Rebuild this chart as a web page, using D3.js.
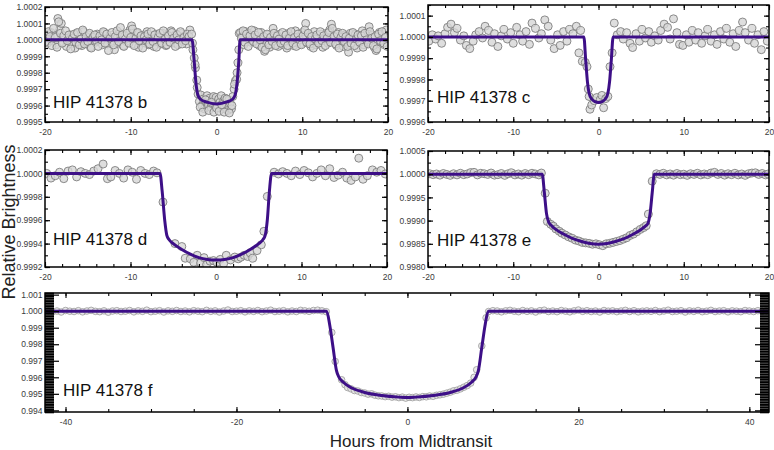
<!DOCTYPE html>
<html>
<head>
<meta charset="utf-8">
<script src="https://cdn.jsdelivr.net/npm/d3@7"></script>
<style>
  body { margin: 0; background: #fff; }
  svg { display: block; }
</style>
</head>
<body>
<div id="chart"></div>
<script>
/* =========================
   Data (hours from midtransit, flux offset in ppm)
========================= */
const bPoints = [
  [-19.9,35],[-19.7,-20],[-19.5,10],[-19.3,45],[-19.1,-5],[-18.9,25],[-18.7,-30],[-18.5,130],[-18.3,60],[-18.1,100],
  [-17.9,-15],[-17.7,20],[-17.5,-40],[-17.3,5],[-17.1,30],[-16.9,-25],[-16.7,15],[-16.5,-50],[-16.3,40],[-16.1,-10],
  [-15.9,20],[-15.7,-35],[-15.5,50],[-15.3,0],[-15.1,-20],[-14.9,30],[-14.7,-45],[-14.5,10],[-14.3,25],[-14.1,-15],
  [-13.9,35],[-13.7,-5],[-13.5,20],[-13.3,-30],[-13.1,45],[-12.9,5],[-12.7,-25],[-12.5,15],[-12.3,-10],[-12.1,30],
  [-11.9,-60],[-11.7,20],[-11.5,-20],[-11.3,40],[-11.1,0],[-10.9,-35],[-10.7,25],[-10.5,-10],[-10.3,35],[-10.1,60],
  [-9.9,85],[-9.7,-25],[-9.5,10],[-9.3,40],[-9.1,-45],[-8.9,15],[-8.7,-5],[-8.5,30],[-8.3,-20],[-8.1,50],
  [-7.9,-30],[-7.7,5],[-7.5,25],[-7.3,-40],[-7.1,35],[-6.9,-10],[-6.7,20],[-6.5,-25],[-6.3,40],[-6.1,0],
  [-5.9,-35],[-5.7,30],[-5.5,-15],[-5.3,55],[-5.1,10],[-4.9,-20],[-4.7,35],[-4.5,-30],[-4.3,15],[-4.1,40],
  [-3.9,-10],[-3.7,25],[-3.5,-25],[-3.3,10],[-3.1,60],
  [-19.8,-10],[-19.6,50],[-19.4,20],[-19.2,-35],[-19.0,70],[-18.8,15],[-18.6,-45],[-18.4,110],[-18.2,40],[-18.0,-20],
  [-17.8,25],[-17.6,55],[-17.4,-5],[-17.2,30],[-17.0,-55],[-16.8,10],[-16.6,35],[-16.4,-15],[-16.2,45],[-16.0,-30],
  [-15.8,5],[-15.6,60],[-15.4,-25],[-15.2,20],[-15.0,-10],[-14.8,40],[-14.6,-50],[-14.4,15],[-14.2,30],[-14.0,-5],
  [-13.8,-40],[-13.6,25],[-13.4,0],[-13.2,50],[-13.0,-20],[-12.8,35],[-12.6,-65],[-12.4,10],[-12.2,45],[-12.0,-30],
  [-11.8,20],[-11.6,55],[-11.4,-10],[-11.2,75],[-11.0,30],[-10.8,-40],[-10.6,5],[-10.4,40],[-10.2,-20],[-10.0,15],
  [-9.8,65],[-9.6,-35],[-9.4,10],[-9.2,45],[-9.0,-5],[-8.8,25],[-8.6,-50],[-8.4,20],[-8.2,0],[-8.0,35],
  [-7.8,-25],[-7.6,50],[-7.4,-10],[-7.2,30],[-7.0,-45],[-6.8,15],[-6.6,40],[-6.4,-20],[-6.2,55],[-6.0,5],
  [-5.8,-30],[-5.6,25],[-5.4,-15],[-5.2,45],[-5.0,10],[-4.8,-40],[-4.6,30],[-4.4,0],[-4.2,50],[-4.0,-25],
  [-3.8,15],[-3.6,-5],[-3.4,35],[-3.2,20],
  [-2.9,35],[-2.75,-60],[-2.6,-110],[-2.45,-170],[-2.3,-245],[-2.15,-330],[-2.0,-375],[-1.85,-335],[-1.7,-400],[-1.55,-360],
  [-1.4,-420],[-1.25,-375],[-1.1,-340],[-0.95,-395],[-0.8,-355],[-0.65,-410],[-0.5,-365],[-0.35,-345],[-0.2,-390],[-0.05,-350],
  [0.1,-400],[0.25,-360],[0.4,-380],[0.55,-340],[0.7,-420],[0.85,-370],[1.0,-355],[1.15,-395],[1.3,-430],[1.45,-365],
  [1.6,-385],[1.75,-420],[1.9,-345],[2.05,-300],[2.2,-250],[2.35,-240],[2.5,-140],[2.65,40],
  [-2.8,-20],[-2.5,-150],[-2.25,-290],[-1.9,-410],[-1.6,-440],[-1.3,-365],[-0.9,-430],[-0.6,-380],[-0.3,-440],[0,-415],
  [0.3,-435],[0.6,-395],[0.9,-440],[1.2,-360],[1.5,-445],[1.8,-400],[2.1,-270],[2.4,-200],[2.6,-60],
  [2.8,45],[3.0,20],[3.2,-30],[3.4,50],[3.6,10],[3.8,40],[4.0,-15],[4.2,30],[4.4,55],[4.6,-5],
  [4.8,25],[5.0,-35],[5.2,45],[5.4,5],[5.6,-70],[5.8,-20],[6.0,30],[6.2,-45],[6.4,10],[6.6,70],
  [6.8,-25],[7.0,15],[7.2,-40],[7.4,35],[7.6,0],[7.8,-30],[8.0,20],[8.2,-50],[8.4,40],[8.6,-10],
  [8.8,25],[9.0,-35],[9.2,55],[9.4,-15],[9.6,20],[9.8,-25],[10.0,45],[10.2,5],[10.4,100],[10.6,-20],
  [10.8,30],[11.0,-40],[11.2,10],[11.4,50],[11.6,-30],[11.8,20],[12.0,-10],[12.2,35],[12.4,-45],[12.6,15],
  [12.8,40],[13.0,-20],[13.2,60],[13.4,95],[13.6,-5],[13.8,25],[14.0,-35],[14.2,45],[14.4,-15],[14.6,10],
  [14.8,-40],[15.0,30],[15.2,-20],[15.4,-75],[15.6,40],[15.8,5],[16.0,-25],[16.2,35],[16.4,-50],[16.6,20],
  [16.8,-10],[17.0,55],[17.2,-30],[17.4,15],[17.6,40],[17.8,80],[18.0,-20],[18.2,30],[18.4,-45],[18.6,-65],
  [18.8,25],[19.0,45],[19.2,-15],[19.4,35],[19.6,-30],[19.8,60],
  [2.9,10],[3.1,55],[3.3,-15],[3.5,35],[3.7,-40],[3.9,25],[4.1,60],[4.3,-10],[4.5,30],[4.7,-25],
  [4.9,45],[5.1,0],[5.3,-45],[5.5,20],[5.7,-60],[5.9,35],[6.1,-30],[6.3,15],[6.5,-10],[6.7,40],
  [6.9,-35],[7.1,25],[7.3,5],[7.5,-20],[7.7,45],[7.9,-10],[8.1,30],[8.3,-35],[8.5,10],[8.7,50],
  [8.9,-20],[9.1,15],[9.3,-40],[9.5,35],[9.7,0],[9.9,-30],[10.1,25],[10.3,60],[10.5,-15],[10.7,40],
  [10.9,-25],[11.1,20],[11.3,-50],[11.5,5],[11.7,30],[11.9,-20],[12.1,50],[12.3,-5],[12.5,25],[12.7,-35],
  [12.9,10],[13.1,45],[13.3,-15],[13.5,70],[13.7,20],[13.9,-25],[14.1,35],[14.3,-50],[14.5,15],[14.7,40],
  [14.9,-10],[15.1,20],[15.3,-40],[15.5,10],[15.7,-20],[15.9,45],[16.1,-35],[16.3,5],[16.5,30],[16.7,-15],
  [16.9,25],[17.1,-45],[17.3,40],[17.5,0],[17.7,-25],[17.9,50],[18.1,10],[18.3,-35],[18.5,20],[18.7,-55],
  [18.9,35],[19.1,-5],[19.3,50],[19.5,-20],[19.7,15],[19.9,-40]
];
const bModel = [[-20,0],[-2.85,0],[-2.6,-130],[-2.4,-260],[-2.2,-330],[-1.9,-360],[-1.2,-378],[0,-390],
  [1.2,-378],[1.9,-360],[2.2,-330],[2.4,-260],[2.6,-130],[2.75,0],[20,0]];

const cPoints = [
  [-19.9,-20],[-19.5,10],[-19.1,-10],[-18.8,5],[-18.4,-30],[-18.0,15],[-17.7,45],[-17.3,60],[-16.9,20],[-16.6,40],
  [-16.2,-15],[-15.8,5],[-15.5,-40],[-15.1,-55],[-14.7,-20],[-14.4,10],[-14.0,25],[-13.6,-5],[-13.3,50],[-12.9,30],
  [-12.5,-25],[-12.2,15],[-11.8,-45],[-11.4,5],[-11.1,35],[-10.7,-10],[-10.3,20],[-10.0,-30],[-9.6,45],[-9.2,10],
  [-8.9,-20],[-8.5,25],[-8.1,-35],[-7.8,65],[-7.4,40],[-7.0,-5],[-6.7,15],[-6.3,80],[-5.9,50],[-5.6,-15],
  [-5.2,-55],[-4.8,10],[-4.5,-40],[-4.1,25],[-3.7,-20],[-3.4,35],[-3.0,15],[-2.6,50],[-2.3,-75],[-2.1,30],
  [-1.9,-115],[-1.55,-120],[-1.35,-140],[-1.2,-245],[-1.1,-280],[-1.0,-340],[-0.8,-320],[-0.5,-300],[-0.2,-285],[0.2,-295],
  [0.4,-275],[0.6,-333],[0.85,-290],[1.1,-280],[1.35,-140],[1.6,-75],[1.85,65],
  [2.2,10],[2.6,25],[2.9,-10],[3.3,20],[3.7,-30],[4.0,-50],[4.4,15],[4.8,-20],[5.1,35],[5.5,-5],
  [5.9,25],[6.2,-25],[6.6,5],[7.0,-15],[7.3,30],[7.7,60],[8.1,45],[8.4,-10],[8.8,85],[9.2,20],
  [9.5,-35],[9.9,-40],[10.3,10],[10.6,-25],[11.0,30],[11.4,-15],[11.7,20],[12.1,-30],[12.5,5],[12.8,35],
  [13.2,-20],[13.6,10],[13.9,-35],[14.3,25],[14.7,-10],[15.0,40],[15.4,-25],[15.8,15],[16.1,-45],[16.5,30],
  [16.9,70],[17.2,20],[17.6,-15],[18.0,40],[18.3,-30],[18.7,10],[19.1,-60],[19.4,25],[19.8,-20]
];
const cModel = [[-20,0],[-1.72,0],[-1.5,-110],[-1.3,-210],[-1.1,-265],[-0.8,-292],[-0.4,-304],[0,-308],
  [0.4,-304],[0.8,-292],[1.1,-265],[1.3,-210],[1.5,-110],[1.72,0],[20,0]];

const dPoints = [
  [-19.8,0],[-19.3,-40],[-18.8,-20],[-18.3,10],[-17.8,-45],[-17.3,20],[-16.8,30],[-16.3,-30],[-15.8,15],[-15.3,0],
  [-14.8,-10],[-14.3,20],[-13.8,40],[-13.2,80],[-12.7,-45],[-12.3,-30],[-11.8,25],[-11.3,0],[-10.8,-40],[-10.3,30],
  [-9.8,10],[-9.3,-50],[-8.8,25],[-8.3,0],[-7.8,-10],[-7.3,20],[-6.9,5],
  [-6.2,-245],[-4.8,-600],[-4.0,-625],[-3.6,-725],[-3.0,-730],[-2.6,-760],[-2.2,-700],[-1.8,-765],[-1.4,-720],
  [-1.1,-780],[-0.7,-750],[-0.3,-745],[0.1,-760],[0.5,-735],[0.9,-770],[1.2,-700],[1.7,-740],[2.2,-715],[2.6,-730],
  [2.9,-717],[3.3,-700],[3.7,-710],[4.0,-680],[4.3,-725],[4.8,-660],[5.3,-610],[5.6,-495],[6.0,-197],
  [6.8,10],[7.3,-5],[7.8,15],[8.3,0],[8.8,-20],[9.3,20],[9.8,-10],[10.3,25],[10.8,5],[11.3,-30],
  [11.8,0],[12.3,30],[12.8,-20],[13.3,40],[13.8,-35],[14.3,-15],[14.8,10],[15.3,-40],[15.8,-60],[16.3,-30],
  [16.7,130],[17.2,-50],[17.7,-20],[18.3,30],[18.8,10],[19.3,25],[19.8,-5]
];
const dModel = [[-20,0],[-6.55,0],[-6.3,-150],[-6.0,-400],[-5.75,-530],[-5.5,-565],[-5,-600],[-4,-650],[-3,-690],
  [-2,-720],[-1,-735],[0,-740],[1,-735],[2,-720],[3,-690],[4,-650],[5,-600],[5.5,-565],[5.75,-530],[6.0,-400],
  [6.25,-150],[6.5,0],[20,0]];

const ePoints = [
  [-19.8,10],[-19.4,-10],[-19.0,5],[-18.6,-20],[-18.2,15],[-17.8,-5],[-17.4,-25],[-17.0,10],[-16.6,-15],[-16.2,20],
  [-15.8,-10],[-15.4,5],[-15.0,35],[-14.6,40],[-14.2,-15],[-13.8,20],[-13.4,10],[-13.0,-5],[-12.6,25],[-12.2,-20],
  [-11.8,-10],[-11.4,15],[-11.0,-25],[-10.6,10],[-10.2,30],[-9.8,-15],[-9.4,5],[-9.0,-20],[-8.6,15],[-8.2,-10],
  [-7.8,20],[-7.4,5],[-7.0,-15],[-6.7,25],
  [-6.25,-410],[-6.0,-1020],[-5.6,-1080],[-5.3,-1120],[-5.0,-1180],[-4.6,-1230],[-4.3,-1270],[-3.9,-1310],[-3.5,-1350],[-3.1,-1380],
  [-2.7,-1420],[-2.3,-1440],[-1.9,-1470],[-1.5,-1480],[-1.1,-1490],[-0.7,-1510],[-0.3,-1500],[0.1,-1520],[0.5,-1540],[0.9,-1500],
  [1.3,-1490],[1.7,-1470],[2.1,-1450],[2.5,-1430],[2.9,-1400],[3.3,-1370],[3.7,-1320],[4.1,-1290],[4.5,-1240],[4.9,-1190],
  [5.3,-1150],[5.6,-1110],[5.85,-860],[6.3,-150],
  [6.8,10],[7.2,-5],[7.6,20],[8.0,-15],[8.4,5],[8.8,-20],[9.2,15],[9.6,-10],[10.0,0],[10.4,-25],
  [10.8,10],[11.2,-5],[11.6,20],[12.0,-15],[12.4,5],[12.8,-10],[13.2,25],[13.6,40],[14.0,-5],[14.4,15],
  [14.8,-20],[15.2,10],[15.6,-10],[16.0,20],[16.4,-15],[16.8,5],[17.2,-25],[17.6,10],[18.0,25],[18.4,30],
  [18.8,-5],[19.2,15],[19.6,-15],[19.9,5]
];
const eModel = [[-20,0],[-6.6,0],[-6.35,-400],[-6.1,-850],[-5.85,-1030],[-5.5,-1110],[-5,-1190],[-4,-1300],
  [-3,-1390],[-2,-1450],[-1,-1495],[0,-1510],[1,-1495],[2,-1450],[3,-1390],[4,-1300],[5,-1190],[5.5,-1120],
  [5.8,-1060],[6.05,-850],[6.3,-400],[6.55,0],[20,0]];

const fPoints = [
  [-42.0,20],[-41.5,-30],[-41.0,10],[-40.5,-50],[-40.0,40],[-39.5,0],[-39.0,-20],[-38.5,30],[-38.0,-40],[-37.5,10],
  [-37.0,50],[-36.5,-10],[-36.0,-30],[-35.5,20],[-35.0,-60],[-34.5,10],[-34.0,30],[-33.5,-20],[-33.0,0],[-32.5,40],
  [-32.0,-40],[-31.5,20],[-31.0,-10],[-30.5,60],[-30.0,-30],[-29.5,0],[-29.0,30],[-28.5,-50],[-28.0,20],[-27.5,-10],
  [-27.0,40],[-26.5,-20],[-26.0,10],[-25.5,-40],[-25.0,30],[-24.5,0],[-24.0,-30],[-23.5,50],[-23.0,-10],[-22.5,20],
  [-22.0,-50],[-21.5,10],[-21.0,70],[-20.5,-20],[-20.0,0],[-19.5,30],[-19.0,-40],[-18.5,20],[-18.0,-10],[-17.5,40],
  [-17.0,-30],[-16.5,10],[-16.0,60],[-15.5,-20],[-15.0,0],[-14.5,30],[-14.0,-40],[-13.5,10],[-13.0,-20],[-12.5,50],
  [-12.0,20],[-11.5,-10],[-11.0,40],[-10.5,60],[-10.0,20],[-9.5,-30],
  [-8.85,-1290],[-8.45,-3040],[-7.7,-4150],[-7.3,-4450],[-7.0,-4620],[-6.6,-4700],[-6.2,-4800],[-5.8,-4830],[-5.4,-4920],[-5.0,-4950],
  [-4.6,-5020],[-4.2,-5000],[-3.8,-5080],[-3.4,-5120],[-3.0,-5130],[-2.6,-5170],[-2.2,-5150],[-1.8,-5200],[-1.4,-5180],[-1.0,-5230],
  [-0.6,-5200],[-0.2,-5260],[0.2,-5210],[0.6,-5230],[1.0,-5190],[1.4,-5220],[1.8,-5170],[2.2,-5180],[2.6,-5130],[3.0,-5150],
  [3.4,-5090],[3.8,-5060],[4.2,-5020],[4.6,-4960],[5.0,-4900],[5.4,-4820],[5.8,-4780],[6.2,-4700],[6.6,-4600],[7.0,-4500],
  [7.4,-4350],[7.8,-4000],[8.1,-3545],[8.7,-2100],[9.2,-400],
  [9.5,-20],[10.0,30],[10.5,10],[11.0,-40],[11.5,20],[12.0,50],[12.5,0],[13.0,-30],[13.5,40],[14.0,-10],
  [14.5,20],[15.0,-50],[15.5,30],[16.0,60],[16.5,-20],[17.0,10],[17.5,-30],[18.0,40],[18.5,0],[19.0,-40],
  [19.5,20],[20.0,70],[20.5,-10],[21.0,30],[21.5,-20],[22.0,10],[22.5,-50],[23.0,40],[23.5,0],[24.0,20],
  [24.5,-30],[25.0,10],[25.5,50],[26.0,-20],[26.5,30],[27.0,-40],[27.5,0],[28.0,20],[28.5,-10],[29.0,40],
  [29.5,-30],[30.0,10],[30.5,60],[31.0,-20],[31.5,0],[32.0,30],[32.5,-50],[33.0,20],[33.5,-10],[34.0,40],
  [34.5,-30],[35.0,0],[35.5,50],[36.0,-20],[36.5,10],[37.0,30],[37.5,-40],[38.0,20],[38.5,0],[39.0,-30],
  [39.5,40],[40.0,10],[40.5,-20],[41.0,30],[41.5,-10],[42.0,20]
];
const fModel = [[-42.4,0],[-9.45,0],[-9.1,-800],[-8.7,-2200],[-8.3,-3600],[-8.0,-4000],[-7.5,-4300],[-6.5,-4650],
  [-5,-4920],[-3,-5100],[-1,-5200],[0,-5230],[1,-5200],[3,-5100],[5,-4920],[6.5,-4650],[7.5,-4300],[8.0,-4000],
  [8.3,-3600],[8.7,-2200],[9.1,-800],[9.45,0],[42.3,0]];

// tick values
const xTicksShort = [-20, -10, 0, 10, 20];
const xTicksLong = [-40, -20, 0, 20, 40];
const bYTicks = [0.9995, 0.9996, 0.9997, 0.9998, 0.9999, 1.0000, 1.0001, 1.0002];
const cYTicks = [0.9996, 0.9997, 0.9998, 0.9999, 1.0000, 1.0001];
const dYTicks = [0.9992, 0.9994, 0.9996, 0.9998, 1.0000, 1.0002];
const eYTicks = [0.9980, 0.9985, 0.9990, 0.9995, 1.0000, 1.0005];
const fYTicks = [0.994, 0.995, 0.996, 0.997, 0.998, 0.999, 1.000, 1.001];

const panelNames = ["HIP 41378 b", "HIP 41378 c", "HIP 41378 d", "HIP 41378 e", "HIP 41378 f"];

/* =========================
   Layout
========================= */
const FONT = "'Liberation Sans', Arial, Helvetica, sans-serif";

const panels = [
  { id: "b", points: bPoints, model: bModel, name: panelNames[0],
    left: 45, right: 388, top: 7, bottom: 122, xDomain: [-20, 20], yDomain: [0.9995, 1.0002],
    xTicks: xTicksShort, xMinor: 2, yTicks: bYTicks, yMinor: 0.00005, digits: 4,
    r: 4, labelX: 53, labelY: 108 },
  { id: "c", points: cPoints, model: cModel, name: panelNames[1],
    left: 428, right: 769, top: 5, bottom: 122, xDomain: [-20, 20], yDomain: [0.9996, 1.00015],
    xTicks: xTicksShort, xMinor: 2, yTicks: cYTicks, yMinor: 0.00005, digits: 4,
    r: 4, labelX: 437, labelY: 103 },
  { id: "d", points: dPoints, model: dModel, name: panelNames[2],
    left: 45, right: 387, top: 150, bottom: 267, xDomain: [-20, 20], yDomain: [0.9992, 1.0002],
    xTicks: xTicksShort, xMinor: 2, yTicks: dYTicks, yMinor: 0.0001, digits: 4,
    r: 4, labelX: 53, labelY: 245 },
  { id: "e", points: ePoints, model: eModel, name: panelNames[3],
    left: 428, right: 769, top: 151, bottom: 267, xDomain: [-20, 20], yDomain: [0.998, 1.0005],
    xTicks: xTicksShort, xMinor: 2, yTicks: eYTicks, yMinor: 0.00025, digits: 4,
    r: 4, labelX: 437, labelY: 246 },
  { id: "f", points: fPoints, model: fModel, name: panelNames[4],
    left: 45, right: 769, top: 293, bottom: 412, xDomain: [-42.4, 42.3], yDomain: [0.9939, 1.0011],
    xTicks: xTicksLong, xMinor: 5, yTicks: fYTicks, yMinor: 0.0001, digits: 3,
    r: 3.3, labelX: 63, labelY: 396, dense: true }
];

const svg = d3.select("#chart").append("svg")
  .attr("width", 774).attr("height", 450);

const toFlux = v => 1 + v * 1e-6;

function addAxis(maker, scale, vals, size, transform, fmt, pad, width) {
  const a = maker(scale).tickValues(vals).tickSize(-size).tickPadding(pad || 3)
    .tickFormat(fmt || (() => ""));
  const g = svg.append("g").attr("transform", transform).call(a);
  g.select(".domain").remove();
  g.attr("font-family", FONT);
  g.selectAll(".tick line").attr("stroke", "#000").attr("stroke-width", width || 1.1);
  g.selectAll("text").attr("font-size", 8.5).attr("fill", "#3a3a3a");
}

function drawPanel(p) {
  const x = d3.scaleLinear().domain(p.xDomain).range([p.left, p.right]);
  const y = d3.scaleLinear().domain(p.yDomain).range([p.bottom, p.top]);

  svg.append("clipPath").attr("id", "clip-" + p.id)
    .append("rect")
    .attr("x", p.left).attr("y", p.top)
    .attr("width", p.right - p.left).attr("height", p.bottom - p.top);

  const plot = svg.append("g").attr("clip-path", `url(#clip-${p.id})`);

  plot.selectAll("circle")
    .data(p.points)
    .join("circle")
    .attr("cx", d => x(d[0]))
    .attr("cy", d => y(toFlux(d[1])))
    .attr("r", p.r)
    .attr("fill", p.dense ? "#e2e2e2" : "#d6d6d6")
    .attr("fill-opacity", 0.8)
    .attr("stroke", p.dense ? "#9a9a9a" : "#7f7f7f")
    .attr("stroke-width", p.dense ? 0.8 : 0.9);

  const line = d3.line()
    .x(d => x(d[0]))
    .y(d => y(toFlux(d[1])))
    .curve(d3.curveMonotoneX);

  plot.append("path")
    .datum(p.model)
    .attr("fill", "none")
    .attr("stroke", "#3d0f87")
    .attr("stroke-width", 3)
    .attr("d", line);

  // minor tick positions
  const xMin = d3.range(p.xTicks[0], p.xTicks[p.xTicks.length - 1] + 0.001, p.xMinor);
  const yMin = d3.range(p.yDomain[0], p.yDomain[1] + 1e-9, p.yMinor);

  const xFmt = d => String(d);           // plain hyphen minus like the original
  const yFmt = d => d.toFixed(p.digits);

  // x axes (ticks inside)
  addAxis(d3.axisBottom, x, p.xTicks, 5, `translate(0,${p.bottom})`, xFmt, 6.5);
  addAxis(d3.axisBottom, x, xMin, 3, `translate(0,${p.bottom})`);
  addAxis(d3.axisTop, x, p.xTicks, 5, `translate(0,${p.top})`);
  addAxis(d3.axisTop, x, xMin, 3, `translate(0,${p.top})`);

  // y axes (the long panel has a dense band of minor ticks)
  const major = p.dense ? 14 : 5;
  const minor = p.dense ? 9 : 3;
  const w = p.dense ? 1.6 : 1.1;
  addAxis(d3.axisLeft, y, p.yTicks, major, `translate(${p.left},0)`, yFmt, 2.5, 1.2);
  addAxis(d3.axisLeft, y, yMin, minor, `translate(${p.left},0)`, null, 3, w);
  addAxis(d3.axisRight, y, p.yTicks, major, `translate(${p.right},0)`, null, 3, 1.2);
  addAxis(d3.axisRight, y, yMin, minor, `translate(${p.right},0)`, null, 3, w);

  // frame
  svg.append("rect")
    .attr("x", p.left).attr("y", p.top)
    .attr("width", p.right - p.left).attr("height", p.bottom - p.top)
    .attr("fill", "none").attr("stroke", "#000").attr("stroke-width", 1.5);

  svg.append("text")
    .attr("x", p.labelX).attr("y", p.labelY)
    .attr("font-family", FONT).attr("font-size", 17).attr("fill", "#111")
    .text(p.name);
}

panels.forEach(drawPanel);

// axis titles
svg.append("text")
  .attr("transform", "translate(15,222) rotate(-90)")
  .attr("text-anchor", "middle")
  .attr("font-family", FONT).attr("font-size", 18).attr("fill", "#222")
  .text("Relative Brightness");

svg.append("text")
  .attr("x", 411).attr("y", 447)
  .attr("text-anchor", "middle")
  .attr("font-family", FONT).attr("font-size", 17).attr("fill", "#222")
  .text("Hours from Midtransit");
</script>
</body>
</html>
